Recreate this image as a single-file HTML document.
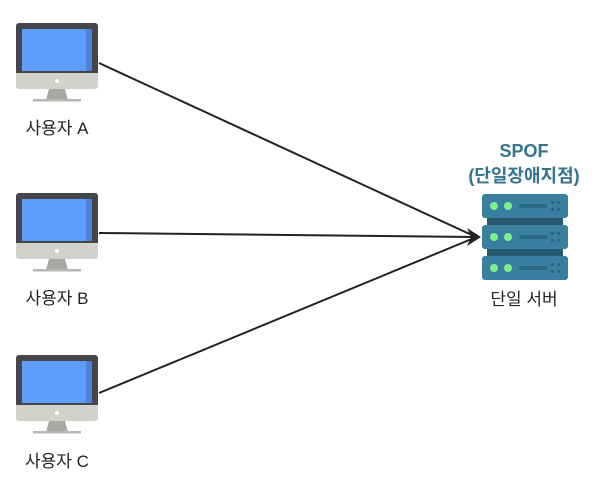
<!DOCTYPE html>
<html><head><style>body{margin:0;background:#fff}svg{display:block}text{font-family:"Liberation Sans","Noto Sans CJK KR",sans-serif}</style></head><body>
<svg width="610" height="498" viewBox="0 0 610 498" xmlns="http://www.w3.org/2000/svg">
<defs>
<g id="mon">
<rect x="16" y="0" width="82" height="64" rx="3" fill="#444649"/>
<path d="M16 50 H98 V63 a3 3 0 0 1 -3 3 H19 a3 3 0 0 1 -3 -3Z" fill="#d3d1cc"/>
<rect x="22" y="6" width="70" height="42" fill="#5f9dfa"/>
<rect x="86" y="6" width="6" height="42" fill="#4b83d6"/>
<circle cx="57" cy="58" r="2" fill="#fff"/>
<path d="M49 66 H65 L68 77 H46Z" fill="#a9a7a3"/>
<rect x="33" y="76" width="48" height="2.5" fill="#b9b7b3"/>
</g>
<g id="unit">
<rect x="482" y="0" width="86" height="24" rx="3" fill="#3b7fa0"/>
<circle cx="494" cy="12" r="4" fill="#7df08d"/>
<circle cx="508" cy="12" r="4" fill="#7df08d"/>
<rect x="519" y="10" width="28" height="4" rx="2" fill="#2d6784"/>
<rect x="551" y="7" width="3" height="3" fill="#2d6784"/><rect x="557" y="7" width="3" height="3" fill="#2d6784"/>
<rect x="551" y="14" width="3" height="3" fill="#2d6784"/><rect x="557" y="14" width="3" height="3" fill="#2d6784"/>
</g>
</defs>
<use href="#mon" y="23"/>
<use href="#mon" y="193"/>
<use href="#mon" y="355"/>
<g font-size="17" fill="#222" text-anchor="middle">
<text x="57" y="134">사용자 A</text>
<text x="57" y="304">사용자 B</text>
<text x="57" y="467">사용자 C</text>
<text x="524" y="305">단일 서버</text>
</g>
<g font-size="18" font-weight="bold" fill="#35738f" text-anchor="middle">
<text x="524" y="157">SPOF</text>
<text x="524" y="182">(단일장애지점)</text>
</g>
<rect x="487" y="215" width="76" height="44" fill="#27596f"/>
<use href="#unit" y="194"/>
<use href="#unit" y="225"/>
<use href="#unit" y="256"/>
<g stroke="#222" stroke-width="2" fill="none">
<line x1="99" y1="63" x2="474" y2="236"/>
<line x1="99" y1="233" x2="474" y2="237"/>
<line x1="99" y1="393" x2="474" y2="238"/>
</g>
<path d="M481 237 L467 228 L471 237 L467 246Z" fill="#222"/>
</svg>
</body></html>
